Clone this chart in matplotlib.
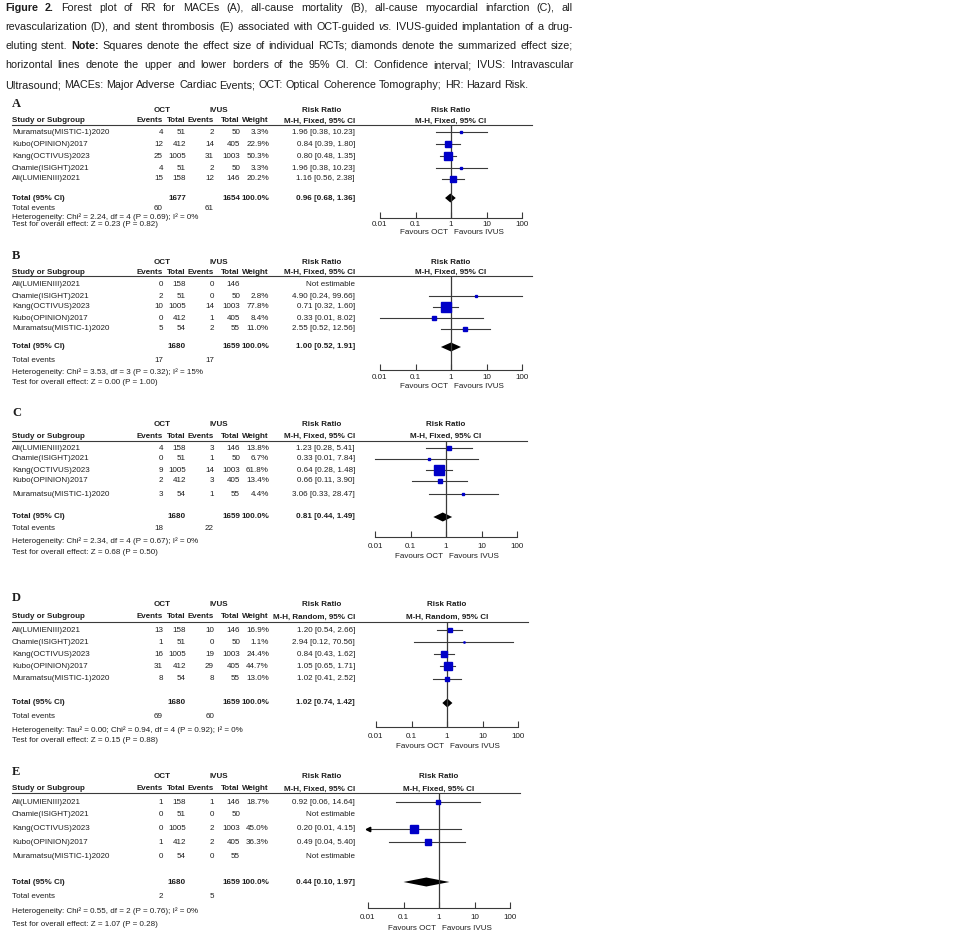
# Forest plots (RevMan style) for OCT vs IVUS, panels A-E

import numpy as np
import matplotlib.pyplot as plt
from matplotlib.ticker import NullLocator

# ---- data -------------------------------------------------------------
studies_A = ["Muramatsu(MISTIC-1)2020", "Kubo(OPINION)2017", "Kang(OCTIVUS)2023",
             "Chamie(ISIGHT)2021", "Ali(LUMIENIII)2021"]
studies_BE = ["Ali(LUMIENIII)2021", "Chamie(ISIGHT)2021", "Kang(OCTIVUS)2023",
              "Kubo(OPINION)2017", "Muramatsu(MISTIC-1)2020"]

# A: MACEs
oct_ev_A = [4, 12, 25, 4, 15]
oct_tot_A = [51, 412, 1005, 51, 158]
ivus_ev_A = [2, 14, 31, 2, 12]
ivus_tot_A = [50, 405, 1003, 50, 146]
weight_A = [3.3, 22.9, 50.3, 3.3, 20.2]
rr_A = [1.96, 0.84, 0.80, 1.96, 1.16]
lo_A = [0.38, 0.39, 0.48, 0.38, 0.56]
hi_A = [10.23, 1.80, 1.35, 10.23, 2.38]
total_A = [1677, 1654, 0.96, 0.68, 1.36]
events_A = [60, 61]
het_A = "Heterogeneity: Chi² = 2.24, df = 4 (P = 0.69); I² = 0%"
test_A = "Test for overall effect: Z = 0.23 (P = 0.82)"

# B: all-cause mortality
oct_ev_B = [0, 2, 10, 0, 5]
oct_tot_B = [158, 51, 1005, 412, 54]
ivus_ev_B = [0, 0, 14, 1, 2]
ivus_tot_B = [146, 50, 1003, 405, 55]
weight_B = [None, 2.8, 77.8, 8.4, 11.0]
rr_B = [None, 4.90, 0.71, 0.33, 2.55]
lo_B = [None, 0.24, 0.32, 0.01, 0.52]
hi_B = [None, 99.66, 1.60, 8.02, 12.56]
total_B = [1680, 1659, 1.00, 0.52, 1.91]
events_B = [17, 17]
het_B = "Heterogeneity: Chi² = 3.53, df = 3 (P = 0.32); I² = 15%"
test_B = "Test for overall effect: Z = 0.00 (P = 1.00)"

# C: myocardial infarction
oct_ev_C = [4, 0, 9, 2, 3]
oct_tot_C = [158, 51, 1005, 412, 54]
ivus_ev_C = [3, 1, 14, 3, 1]
ivus_tot_C = [146, 50, 1003, 405, 55]
weight_C = [13.8, 6.7, 61.8, 13.4, 4.4]
rr_C = [1.23, 0.33, 0.64, 0.66, 3.06]
lo_C = [0.28, 0.01, 0.28, 0.11, 0.33]
hi_C = [5.41, 7.84, 1.48, 3.90, 28.47]
total_C = [1680, 1659, 0.81, 0.44, 1.49]
events_C = [18, 22]
het_C = "Heterogeneity: Chi² = 2.34, df = 4 (P = 0.67); I² = 0%"
test_C = "Test for overall effect: Z = 0.68 (P = 0.50)"

# D: revascularization (random effects)
oct_ev_D = [13, 1, 16, 31, 8]
oct_tot_D = [158, 51, 1005, 412, 54]
ivus_ev_D = [10, 0, 19, 29, 8]
ivus_tot_D = [146, 50, 1003, 405, 55]
weight_D = [16.9, 1.1, 24.4, 44.7, 13.0]
rr_D = [1.20, 2.94, 0.84, 1.05, 1.02]
lo_D = [0.54, 0.12, 0.43, 0.65, 0.41]
hi_D = [2.66, 70.56, 1.62, 1.71, 2.52]
total_D = [1680, 1659, 1.02, 0.74, 1.42]
events_D = [69, 60]
het_D = "Heterogeneity: Tau² = 0.00; Chi² = 0.94, df = 4 (P = 0.92); I² = 0%"
test_D = "Test for overall effect: Z = 0.15 (P = 0.88)"

# E: stent thrombosis
oct_ev_E = [1, 0, 0, 1, 0]
oct_tot_E = [158, 51, 1005, 412, 54]
ivus_ev_E = [1, 0, 2, 2, 0]
ivus_tot_E = [146, 50, 1003, 405, 55]
weight_E = [18.7, None, 45.0, 36.3, None]
rr_E = [0.92, None, 0.20, 0.49, None]
lo_E = [0.06, None, 0.01, 0.04, None]
hi_E = [14.64, None, 4.15, 5.40, None]
total_E = [1680, 1659, 0.44, 0.10, 1.97]
events_E = [2, 5]
het_E = "Heterogeneity: Chi² = 0.55, df = 2 (P = 0.76); I² = 0%"
test_E = "Test for overall effect: Z = 1.07 (P = 0.28)"

axis_ticks = [0.01, 0.1, 1, 10, 100]
axis_labels = ["0.01", "0.1", "1", "10", "100"]

caption = [
    "Figure 2. Forest plot of RR for MACEs (A), all-cause mortality (B), all-cause myocardial infarction (C), all",
    "revascularization (D), and stent thrombosis (E) associated with OCT-guided vs. IVUS-guided implantation of a drug-",
    "eluting stent. Note: Squares denote the effect size of individual RCTs; diamonds denote the summarized effect size;",
    "horizontal lines denote the upper and lower borders of the 95% CI. CI: Confidence interval; IVUS: Intravascular",
    "Ultrasound; MACEs: Major Adverse Cardiac Events; OCT: Optical Coherence Tomography; HR: Hazard Risk.",
]

# ---- layout (pixels) --------------------------------------------------
W, H = 967, 942
TXT = "#1e1e1e"
LINE = "#3a3a3a"
BLUE = "#0000c8"
FS = 5.8
SANS = ["Liberation Sans", "DejaVu Sans"]

X_STUDY, X_OE, X_OT, X_IE, X_IT, X_W, X_RR = 12, 163, 186, 214, 240, 269, 355

layout = {
    "A": dict(one=451, letter=104, h1=110, h2=121, line=125, rows=[132, 144, 156, 168, 179],
              total=198, events=209, het=217, test=225, axis=218, lab=7, fav=14),
    "B": dict(one=451, letter=256, h1=262, h2=272, line=276, rows=[285, 296, 307, 318, 329],
              total=347, events=360, het=372, test=382, axis=370, lab=8, fav=16),
    "C": dict(one=446, letter=413, h1=425, h2=436, line=441, rows=[448, 459, 470, 481, 494],
              total=517, events=528, het=541, test=553, axis=537, lab=10, fav=19),
    "D": dict(one=447, letter=598, h1=605, h2=617, line=622, rows=[630, 642, 654, 666, 679],
              total=703, events=717, het=730, test=741, axis=727, lab=10, fav=20),
    "E": dict(one=439, letter=772, h1=777, h2=789, line=793, rows=[802, 815, 829, 842, 857],
              total=882, events=897, het=911, test=924, axis=908, lab=10, fav=21),
}

panels = [
    ("A", "M-H, Fixed, 95% CI", studies_A, oct_ev_A, oct_tot_A, ivus_ev_A, ivus_tot_A,
     weight_A, rr_A, lo_A, hi_A, total_A, events_A, het_A, test_A),
    ("B", "M-H, Fixed, 95% CI", studies_BE, oct_ev_B, oct_tot_B, ivus_ev_B, ivus_tot_B,
     weight_B, rr_B, lo_B, hi_B, total_B, events_B, het_B, test_B),
    ("C", "M-H, Fixed, 95% CI", studies_BE, oct_ev_C, oct_tot_C, ivus_ev_C, ivus_tot_C,
     weight_C, rr_C, lo_C, hi_C, total_C, events_C, het_C, test_C),
    ("D", "M-H, Random, 95% CI", studies_BE, oct_ev_D, oct_tot_D, ivus_ev_D, ivus_tot_D,
     weight_D, rr_D, lo_D, hi_D, total_D, events_D, het_D, test_D),
    ("E", "M-H, Fixed, 95% CI", studies_BE, oct_ev_E, oct_tot_E, ivus_ev_E, ivus_tot_E,
     weight_E, rr_E, lo_E, hi_E, total_E, events_E, het_E, test_E),
]

fig = plt.figure(figsize=(W / 100, H / 100), dpi=100)
canvas = fig.add_axes([0, 0, 1, 1])
canvas.set_xlim(0, W)
canvas.set_ylim(H, 0)
canvas.axis("off")


def put(x, y, s, ha="left", bold=False, size=FS):
    canvas.text(x, y, s, ha=ha, va="center", fontsize=size, family=SANS,
                weight="bold" if bold else "normal", color=TXT)


def rr_text(r, lo, hi):
    if r is None:
        return "Not estimable"
    return f"{r:.2f} [{lo:.2f}, {hi:.2f}]"


for (tag, method, studies, oe, ot, ie, it, wt, rr, lo, hi, tot, ev, het, test) in panels:
    L = layout[tag]
    one = L["one"]
    canvas.text(X_STUDY, L["letter"], tag, ha="left", va="center", fontsize=9,
                family=["Liberation Serif", "DejaVu Serif"], weight="bold", color=TXT)

    # headers
    put((X_OE - 25 + X_OT) / 2, L["h1"], "OCT", ha="center", bold=True)
    put((X_IE - 25 + X_IT) / 2 + 4, L["h1"], "IVUS", ha="center", bold=True)
    put(X_RR - 33, L["h1"], "Risk Ratio", ha="center", bold=True)
    put(one, L["h1"], "Risk Ratio", ha="center", bold=True)
    put(X_STUDY, L["h2"], "Study or Subgroup", bold=True)
    put(X_OE, L["h2"], "Events", ha="right", bold=True)
    put(X_OT, L["h2"], "Total", ha="right", bold=True)
    put(X_IE, L["h2"], "Events", ha="right", bold=True)
    put(X_IT, L["h2"], "Total", ha="right", bold=True)
    put(X_W, L["h2"], "Weight", ha="right", bold=True)
    put(X_RR, L["h2"], method, ha="right", bold=True)
    put(one, L["h2"], method, ha="center", bold=True)
    canvas.plot([X_STUDY, one + 81], [L["line"], L["line"]], color=LINE, lw=0.8)

    # study rows
    for i, y in enumerate(L["rows"]):
        put(X_STUDY, y, studies[i])
        put(X_OE, y, str(oe[i]), ha="right")
        put(X_OT, y, str(ot[i]), ha="right")
        put(X_IE, y, str(ie[i]), ha="right")
        put(X_IT, y, str(it[i]), ha="right")
        if wt[i] is not None:
            put(X_W, y, f"{wt[i]:.1f}%", ha="right")
        put(X_RR, y, rr_text(rr[i], lo[i], hi[i]), ha="right")

    # totals
    put(X_STUDY, L["total"], "Total (95% CI)", bold=True)
    put(X_OT, L["total"], str(tot[0]), ha="right", bold=True)
    put(X_IT, L["total"], str(tot[1]), ha="right", bold=True)
    put(X_W, L["total"], "100.0%", ha="right", bold=True)
    put(X_RR, L["total"], rr_text(tot[2], tot[3], tot[4]), ha="right", bold=True)
    put(X_STUDY, L["events"], "Total events")
    put(X_OE, L["events"], str(ev[0]), ha="right")
    put(X_IE, L["events"], str(ev[1]), ha="right")
    put(X_STUDY, L["het"], het)
    put(X_STUDY, L["test"], test)

    # forest axes: log x, y in page pixels so rows line up with the table
    ax = fig.add_axes([(one - 71) / W, 1 - L["axis"] / H, 142 / W, (L["axis"] - L["line"]) / H])
    ax.set_xscale("log")
    ax.set_xlim(0.01, 100)
    ax.set_ylim(L["axis"], L["line"])
    ax.patch.set_alpha(0)
    for s in ("top", "left", "right"):
        ax.spines[s].set_visible(False)
    ax.spines["bottom"].set_color(LINE)
    ax.spines["bottom"].set_linewidth(0.8)
    ax.set_yticks([])
    ax.set_xticks(axis_ticks)
    ax.set_xticklabels(axis_labels, fontsize=FS, family=SANS, color=TXT)
    ax.xaxis.set_minor_locator(NullLocator())
    ax.tick_params(axis="x", direction="in", length=4, width=0.8, color=LINE,
                   pad=(L["lab"] - 4) * 0.72)
    ax.axvline(1, color=LINE, lw=0.9)

    for i, y in enumerate(L["rows"]):
        if rr[i] is None:
            continue
        ax.plot([lo[i], hi[i]], [y, y], color=LINE, lw=0.8, clip_on=False)
        ax.plot(rr[i], y, marker="s", ms=1.15 * np.sqrt(wt[i]) * 0.72,
                color=BLUE, mec=BLUE, clip_on=False)
        if tag == "E" and lo[i] <= 0.01:
            ax.plot(lo[i], y, marker="<", ms=3.2, color="black", clip_on=False)

    ty = L["total"]
    ax.fill([tot[3], tot[2], tot[4], tot[2]], [ty, ty - 4.5, ty, ty + 4.5],
            color="black", lw=0, clip_on=False)

    put(one - 3, L["axis"] + L["fav"], "Favours OCT", ha="right")
    put(one + 3, L["axis"] + L["fav"], "Favours IVUS", ha="left")

# ---- caption, justified -----------------------------------------------
CAP_FONT = ["Liberation Sans", "DejaVu Sans"]
bold_words = {"Figure", "2.", "Note:"}
italic_words = {"vs."}
renderer = fig.canvas.get_renderer()
cap_x0, cap_x1 = 5, 573
cap_y = [8, 27, 46, 65, 85]


def word_text(w, size):
    return canvas.text(0, 0, w, fontsize=size, family=CAP_FONT, va="center", color=TXT,
                       weight="bold" if w in bold_words else "normal",
                       style="italic" if w in italic_words else "normal")


probe = canvas.text(0, 0, caption[-1], fontsize=9, family=CAP_FONT)
cap_size = 9 * 521 / probe.get_window_extent(renderer).width
probe.remove()
sp = canvas.text(0, 0, "x x", fontsize=cap_size, family=CAP_FONT)
nx = canvas.text(0, 0, "xx", fontsize=cap_size, family=CAP_FONT)
space_w = sp.get_window_extent(renderer).width - nx.get_window_extent(renderer).width
sp.remove()
nx.remove()

for k, line in enumerate(caption):
    words = line.split(" ")
    objs = [word_text(w, cap_size) for w in words]
    widths = [o.get_window_extent(renderer).width for o in objs]
    if k < len(caption) - 1:
        gap = (cap_x1 - cap_x0 - sum(widths)) / (len(words) - 1)
    else:
        gap = space_w
    x = cap_x0
    for o, wdt in zip(objs, widths):
        o.set_position((x, cap_y[k]))
        x += wdt + gap

fig.savefig("out.png", dpi=100)
